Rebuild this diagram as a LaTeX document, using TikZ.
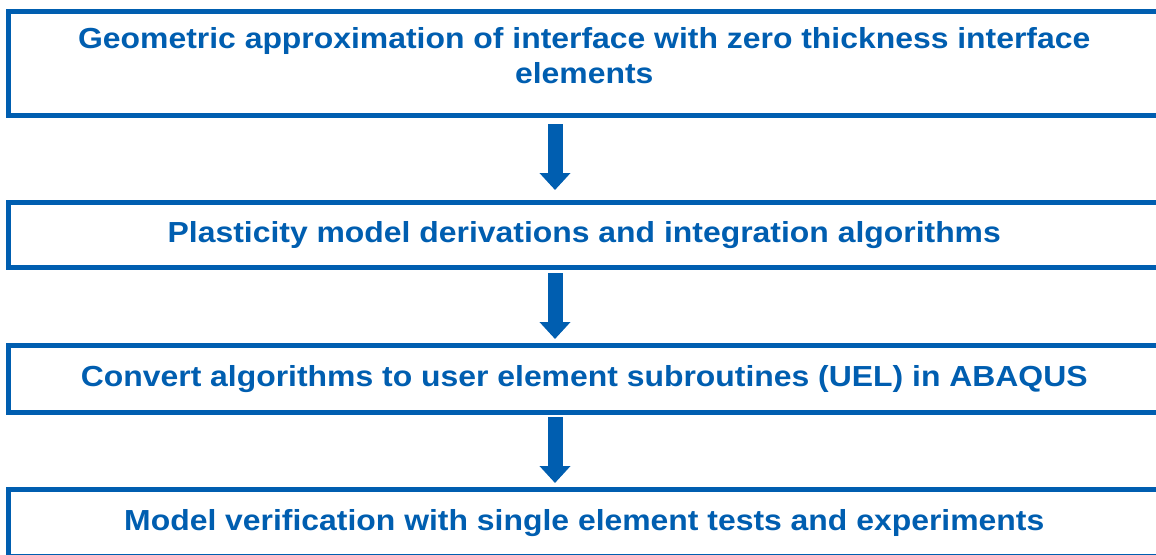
\documentclass[tikz,border=0pt]{standalone}
\usepackage{fontspec}
\setmainfont[FakeStretch=1.1]{Liberation Sans}
\usetikzlibrary{arrows.meta}
\definecolor{ublue}{HTML}{005EB0}
\begin{document}
\begin{tikzpicture}[x=1pt,y=-1pt,
  stepbox/.style={draw=ublue, line width=5pt, inner sep=0pt, outer sep=0pt,
    minimum width=1151.5pt, text=ublue, font=\bfseries\fontsize{29}{35}\selectfont, align=center},
  flowarrow/.style={draw=ublue, line width=15pt,
    -{Triangle[width=30pt,length=17pt,fill=ublue]}}]
\useasboundingbox (0,0) rectangle (1156,554);
\clip (0,0) rectangle (1156,554);
\fill[white] (0,0) rectangle (1156,554);
\node[stepbox, minimum height=104pt] (b1) at (584.25,63.5)
  {Geometric approximation of interface with zero thickness interface\\elements\rule[-17pt]{0pt}{0pt}};
\node[stepbox, minimum height=65.5pt] (b2) at (584.25,234.75)
  {Plasticity model derivations and integration algorithms};
\node[stepbox, minimum height=66.5pt] (b3) at (584.25,378.75)
  {Convert algorithms to user element subroutines (UEL) in ABAQUS};
\node[stepbox, minimum height=66.5pt] (b4) at (584.25,522.75)
  {Model verification with single element tests and experiments};
\draw[flowarrow, shorten <=8.5pt, shorten >=12pt] (b1.south -| 555,0) -- (b2.north -| 555,0);
\draw[flowarrow, shorten <=5.5pt, shorten >=6.5pt] (b2.south -| 555,0) -- (b3.north -| 555,0);
\draw[flowarrow, shorten <=5pt, shorten >=6.5pt] (b3.south -| 555,0) -- (b4.north -| 555,0);
\end{tikzpicture}
\end{document}
